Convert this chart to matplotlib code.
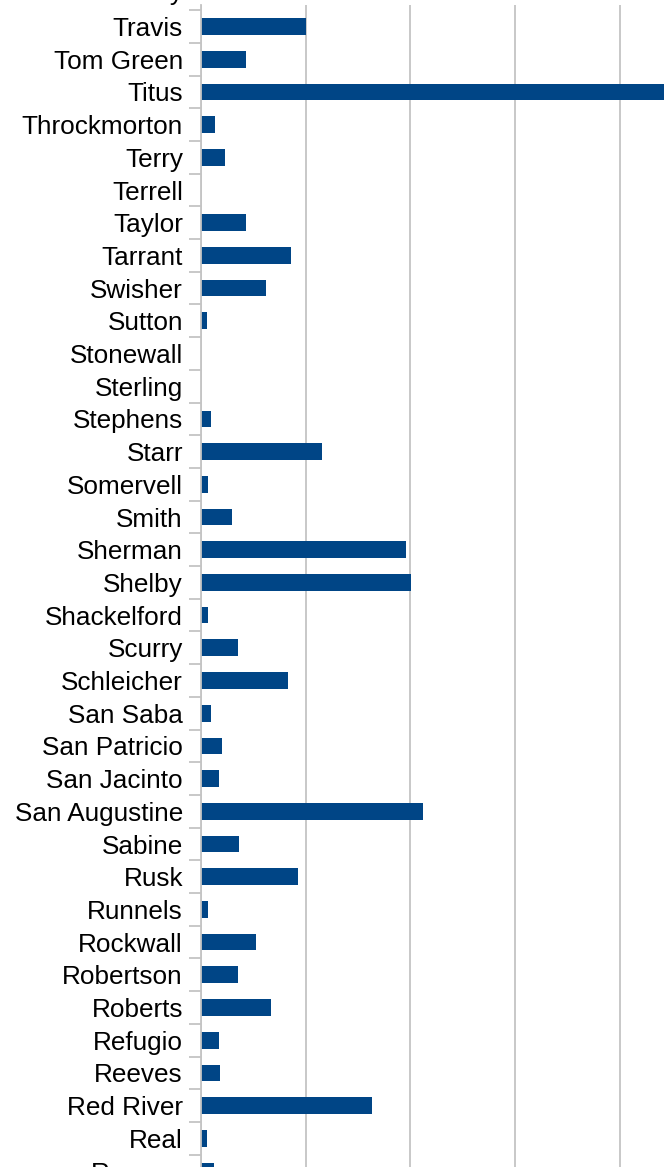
import matplotlib
matplotlib.use("Agg")
import matplotlib.pyplot as plt
from matplotlib.transforms import offset_copy

plt.rcParams['font.family'] = ['Liberation Sans', 'DejaVu Sans']

# county above the visible window, only its label tail shows
partial_top = "Trinity"

counties = ["Travis", "Tom Green", "Titus", "Throckmorton", "Terry", "Terrell",
            "Taylor", "Tarrant", "Swisher", "Sutton", "Stonewall", "Sterling",
            "Stephens", "Starr", "Somervell", "Smith", "Sherman", "Shelby",
            "Shackelford", "Scurry", "Schleicher", "San Saba", "San Patricio",
            "San Jacinto", "San Augustine", "Sabine", "Rusk", "Runnels",
            "Rockwall", "Robertson", "Roberts", "Refugio", "Reeves",
            "Red River", "Real", "Reagan"]

# values in units of one gridline step
values = [1.00, 0.43, 4.42, 0.13, 0.23, 0.0,
          0.43, 0.86, 0.62, 0.06, 0.0, 0.0,
          0.10, 1.16, 0.07, 0.30, 1.96, 2.01,
          0.07, 0.35, 0.83, 0.10, 0.20,
          0.17, 2.12, 0.36, 0.93, 0.07,
          0.53, 0.35, 0.67, 0.17, 0.18,
          1.63, 0.06, 0.12]

bar_color = '#004586'
grid_color = '#c4c4c4'
label_size = 18.85

W, H = 672, 1167
fig = plt.figure(figsize=(W / 100, H / 100), dpi=100)

step_px = 104.7
row_px = 32.7
first_px = 26.5
left_px = 201
top_px = 5
y_top = (top_px - first_px) / row_px
y_bot = 36.5
bottom_px = first_px + y_bot * row_px
x_max = 5

ax = fig.add_axes([left_px / W, 1 - bottom_px / H,
                   x_max * step_px / W, (bottom_px - top_px) / H])

ypos = list(range(len(counties)))
ax.barh(ypos, values, height=0.51, color=bar_color, zorder=3)

ax.set_xlim(0, x_max)
ax.set_ylim(y_bot, y_top)

ax.set_xticks(range(0, x_max + 1))
ax.tick_params(axis='x', length=0, labelbottom=False)
ax.grid(axis='x', color=grid_color, linewidth=1.3, zorder=0)

ax.set_yticks(ypos)
ax.set_yticklabels(counties, fontsize=label_size)
ax.set_yticks([i - 0.5 for i in range(len(counties) + 1)], minor=True)
ax.tick_params(axis='y', which='major', length=0, pad=13)
ax.tick_params(axis='y', which='minor', length=8.5, width=1.3, color=grid_color)

for s in ['top', 'right', 'bottom']:
    ax.spines[s].set_visible(False)
ax.spines['left'].set_color(grid_color)
ax.spines['left'].set_linewidth(1.3)
ax.spines['left'].set_zorder(4)

trans = offset_copy(ax.transData, fig=fig, x=-18, y=3, units='dots')
ax.text(0, -1, partial_top, transform=trans, ha='right', va='center_baseline',
        fontsize=label_size, clip_on=False)

fig.savefig('out.png', dpi=100)
